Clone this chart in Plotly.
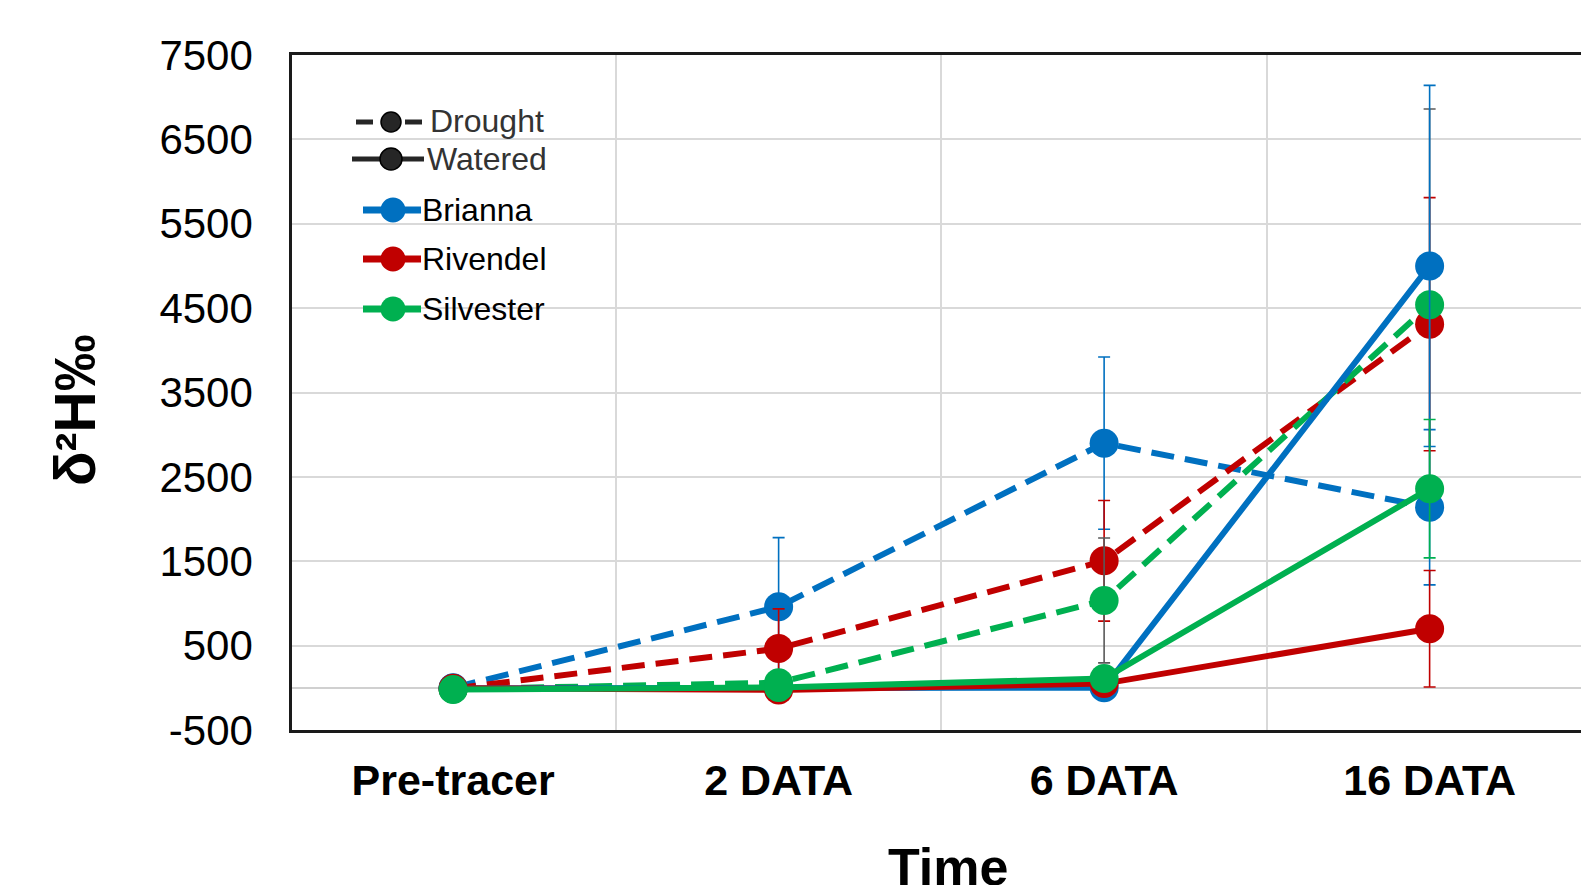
import plotly.graph_objects as go

# ---------------- data ----------------
categories = ["Pre-tracer", "2 DATA", "6 DATA", "16 DATA"]

brianna_drought = [0, 960, 2900, 2140]
brianna_drought_err = [0, 820, 1020, 920]
rivendel_drought = [-10, 465, 1505, 4310]
rivendel_drought_err = [0, 470, 715, 1500]
silvester_drought = [-15, 60, 1035, 4540]
silvester_drought_err = [0, 40, 740, 2320]

brianna_watered = [-5, -10, 0, 5000]
brianna_watered_err = [0, 10, 20, 2140]
rivendel_watered = [-5, -25, 50, 700]
rivendel_watered_err = [0, 15, 30, 690]
silvester_watered = [-20, 5, 110, 2360]
silvester_watered_err = [0, 10, 40, 820]

y_ticks = [-500, 500, 1500, 2500, 3500, 4500, 5500, 6500, 7500]

BLUE = "#0070C0"
RED = "#C00000"
GREEN = "#00B050"
GRAY_ERR = "#595959"
FONT = "Arial, Liberation Sans, sans-serif"

W, H = 1581, 885
ML, MR, MT, MB = 292, 0, 55, 155
PW = W - ML - MR
PH = H - MT - MB

x_idx = list(range(len(categories)))

DASH = "23px,11px"
series = [
    (brianna_drought, brianna_drought_err, BLUE, BLUE, DASH),
    (rivendel_drought, rivendel_drought_err, RED, RED, DASH),
    (silvester_drought, silvester_drought_err, GREEN, GRAY_ERR, DASH),
    (brianna_watered, brianna_watered_err, BLUE, BLUE, "solid"),
    (rivendel_watered, rivendel_watered_err, RED, RED, "solid"),
    (silvester_watered, silvester_watered_err, GREEN, GREEN, "solid"),
]

fig = go.Figure()
for vals, errs, col, ecol, dash in series:
    fig.add_trace(go.Scatter(
        x=x_idx, y=vals, mode="lines+markers",
        line=dict(color=col, width=6, dash=dash),
        marker=dict(color=col, size=29, line=dict(width=0)),
        error_y=dict(type="data", array=errs, visible=True,
                     color=ecol, thickness=1.6, width=6),
        showlegend=False, hoverinfo="skip",
    ))

# ---------------- custom legend (decoration) ----------------
def px(x):
    return (x - ML) / PW


def py(y):
    return (MT + PH - y) / PH


shapes = []
annotations = []


def seg(x0, x1, y, color, width):
    shapes.append(dict(type="line", xref="paper", yref="paper",
                       x0=px(x0), x1=px(x1), y0=py(y), y1=py(y),
                       line=dict(color=color, width=width), layer="above"))


def dot(x, y, d, color, edge=None):
    r = d / 2
    shapes.append(dict(type="circle", xref="paper", yref="paper",
                       xsizemode="pixel", ysizemode="pixel",
                       xanchor=px(x), yanchor=py(y),
                       x0=-r, x1=r, y0=-r, y1=r,
                       fillcolor=color,
                       line=dict(color=edge or color, width=1.5 if edge else 0),
                       layer="above"))


def label(x, y, text, color):
    annotations.append(dict(xref="paper", yref="paper", x=px(x), y=py(y),
                            text=text, showarrow=False, xanchor="left",
                            yanchor="middle",
                            font=dict(family=FONT, size=32, color=color)))


DARK = "#262626"
# Drought
seg(356, 373, 122, DARK, 5)
seg(405, 422, 122, DARK, 5)
dot(391, 122, 20, DARK, "#000000")
label(428, 121, "Drought", "#333333")
# Watered
seg(352, 424, 159, DARK, 5)
dot(391, 159, 22, DARK, "#000000")
label(425, 159, "Watered", "#333333")
# cultivars
for yy, col, name in [(210, BLUE, "Brianna"), (259, RED, "Rivendel"),
                      (309, GREEN, "Silvester")]:
    seg(363, 421, yy, col, 7)
    dot(393, yy, 25, col)
    label(420, yy, name, "#000000")

# axis titles as annotations
annotations.append(dict(xref="paper", yref="paper", x=px(948), y=py(867),
                        text="<b>Time</b>", showarrow=False,
                        xanchor="center", yanchor="middle",
                        font=dict(family=FONT, size=52, color="#000000")))
annotations.append(dict(xref="paper", yref="paper", x=px(75), y=py(410),
                        text="<b>δ²H‰</b>", showarrow=False, textangle=-90,
                        xanchor="center", yanchor="middle",
                        font=dict(family=FONT, size=57, color="#000000")))

fig.update_layout(
    width=W, height=H,
    margin=dict(l=ML, r=MR, t=MT, b=MB, pad=0),
    paper_bgcolor="white", plot_bgcolor="white",
    shapes=shapes, annotations=annotations,
    showlegend=False,
)

x_start = -0.495
fig.update_xaxes(
    range=[x_start, x_start + PW / 325.5],
    tickmode="array", tickvals=x_idx, ticktext=[f"<b>{c}</b>" for c in categories],
    tickfont=dict(family=FONT, size=43, color="#000000"),
    ticks="", ticklabelstandoff=11,
    showgrid=False,
    minor=dict(tick0=0.5, dtick=1, showgrid=True, gridcolor="#d9d9d9", gridwidth=2),
    showline=True, linecolor="#1a1a1a", linewidth=2.5, mirror=True,
    zeroline=False,
)

fig.update_yaxes(
    range=[-500, 7500],
    tickmode="array", tickvals=y_ticks, ticktext=[str(v) for v in y_ticks],
    tickfont=dict(family=FONT, size=42, color="#000000"),
    ticks="", ticklabelstandoff=28,
    showgrid=True, gridcolor="#d9d9d9", gridwidth=2,
    zeroline=True, zerolinecolor="#d0d0d0", zerolinewidth=2,
    showline=True, linecolor="#1a1a1a", linewidth=2.5, mirror=False,
)

fig.write_html(
    "out.html",
    config={"displayModeBar": False},
    post_script="document.body.style.margin='0';document.body.style.overflow='hidden';",
)
